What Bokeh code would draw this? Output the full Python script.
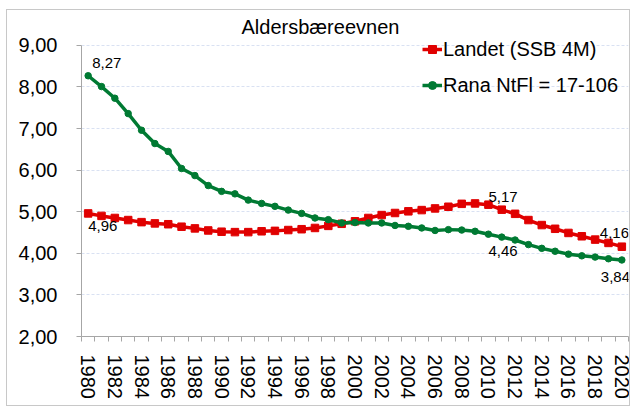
from bokeh.plotting import figure
from bokeh.layouts import column
from bokeh.models import (Range1d, FixedTicker, CustomJSTickFormatter, ColumnDataSource, Title,
                          Legend, LegendItem)
from bokeh.core.properties import value
from bokeh.embed import file_html
from bokeh.resources import INLINE

years = list(range(1980, 2021))
landet = [4.96, 4.90, 4.85, 4.80, 4.75, 4.72, 4.70, 4.64, 4.60, 4.55,
          4.52, 4.51, 4.51, 4.53, 4.54, 4.56, 4.58, 4.61, 4.66, 4.71,
          4.77, 4.85, 4.92, 4.97, 5.01, 5.04, 5.08, 5.12, 5.19, 5.20,
          5.17, 5.05, 4.95, 4.80, 4.68, 4.59, 4.49, 4.41, 4.33, 4.25,
          4.16]
rana = [8.27, 8.01, 7.73, 7.36, 6.96, 6.64, 6.45, 6.04, 5.87, 5.63,
        5.49, 5.43, 5.28, 5.20, 5.13, 5.04, 4.96, 4.85, 4.81, 4.73,
        4.74, 4.73, 4.73, 4.67, 4.65, 4.61, 4.55, 4.57, 4.56, 4.53,
        4.46, 4.39, 4.32, 4.21, 4.12, 4.05, 3.98, 3.94, 3.91, 3.87,
        3.84]
series_names = ["Landet (SSB 4M)", "Rana NtFl = 17-106"]
title_text = "Aldersbæreevnen"
y_ticks = [2, 3, 4, 5, 6, 7, 8, 9]
x_label_years = list(range(1980, 2021, 2))

# data labels: (series, index) and their pixel offsets (style)
label_points = [("rana", 0), ("landet", 0), ("landet", 30), ("rana", 30), ("landet", 40), ("rana", 40)]
label_dx = [4, 0, 0, 0, -22, -21]
label_dy = [-13, 13, -8, 17, -14, 17]

RED = "#e00000"
GREEN = "#007a33"
FONT = "Liberation Sans"

p = figure(width=622, height=395, output_backend="svg", toolbar_location=None,
           x_range=Range1d(1979.5, 2020.5), y_range=Range1d(2, 9.19),
           min_border_left=74, min_border_right=1, min_border_top=27, min_border_bottom=69)
p.outline_line_color = None
p.background_fill_color = "white"
p.border_fill_color = "white"

p.title = Title(text=title_text, align="left", offset=160, text_font=FONT,
                text_font_size="20px", text_font_style="normal", text_color="#000000", standoff=0)

# axes
p.xgrid.visible = False
p.ygrid.grid_line_color = "#d9e1f2"
p.ygrid.grid_line_dash = "3 2"
p.ygrid.ticker = FixedTicker(ticks=y_ticks)

ya = p.yaxis[0]
ya.ticker = FixedTicker(ticks=y_ticks)
ya.bounds = (2, 9)
ya.formatter = CustomJSTickFormatter(code="return tick.toFixed(2).replace('.', ',');")
ya.axis_line_color = "#a6a6a6"
ya.major_tick_line_color = "#a6a6a6"
ya.major_tick_out = 5
ya.major_tick_in = 0
ya.minor_tick_line_color = None
ya.major_label_standoff = 19
ya.major_label_text_font = FONT
ya.major_label_text_font_size = "20px"
ya.major_label_text_color = "#000000"

xa = p.xaxis[0]
xa.ticker = FixedTicker(ticks=x_label_years, minor_ticks=[y - 0.5 for y in years] + [years[-1] + 0.5])
xa.axis_line_color = "#a6a6a6"
xa.major_tick_line_color = None
xa.major_tick_out = 0
xa.major_tick_in = 0
xa.minor_tick_line_color = "#a6a6a6"
xa.minor_tick_out = 5
xa.minor_tick_in = 0
xa.major_label_orientation = "vertical"
xa.major_label_standoff = 13
xa.major_label_text_font = FONT
xa.major_label_text_font_size = "20px"
xa.major_label_text_color = "#000000"

src = ColumnDataSource(dict(year=years, landet=landet, rana=rana))
l1 = p.line("year", "landet", source=src, line_color=RED, line_width=3.5)
m1 = p.scatter("year", "landet", source=src, marker="square", size=7.5, fill_color=RED, line_color=RED)
l2 = p.line("year", "rana", source=src, line_color=GREEN, line_width=3.5)
m2 = p.scatter("year", "rana", source=src, marker="circle", size=6.5, fill_color=GREEN, line_color=GREEN)

data = {"landet": landet, "rana": rana}
lx = [years[i] for s, i in label_points]
ly = [data[s][i] for s, i in label_points]
lt = [f"{v:.2f}".replace(".", ",") for v in ly]
lsrc = ColumnDataSource(dict(x=lx, y=ly, t=lt, dx=label_dx, dy=label_dy))
p.text("x", "y", text="t", source=lsrc, x_offset="dx", y_offset="dy",
       text_font=value(FONT), text_font_size="15px", text_align="left",
       text_baseline="middle", text_color="#000000")

legend = Legend(items=[LegendItem(label=series_names[0], renderers=[l1, m1]),
                       LegendItem(label=series_names[1], renderers=[l2, m2])],
                location=(341, 239), orientation="vertical",
                padding=0, margin=0, spacing=12, glyph_width=20, glyph_height=24,
                label_height=24, label_standoff=1, border_line_color=None,
                background_fill_alpha=0, label_text_font=FONT, label_text_font_size="20px",
                label_text_color="#000000")
p.add_layout(legend, "center")

layout = column(p, margin=(9, 0, 0, 6), styles={"border": "1px solid #c8c8c8"})

open("out.html", "w").write(file_html(layout, INLINE))
